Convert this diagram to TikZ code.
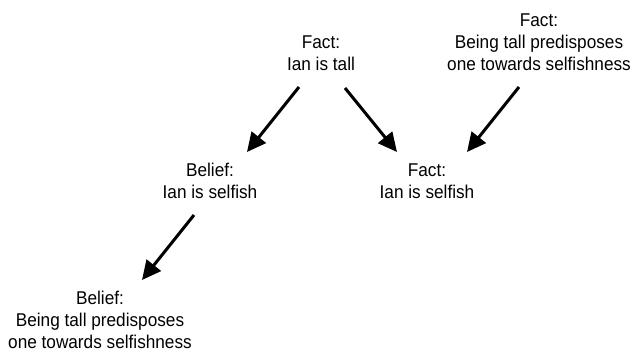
\documentclass[tikz,border=0pt]{standalone}
\usepackage{fontspec}
\setmainfont[FakeStretch=0.93]{Liberation Sans}
\usetikzlibrary{arrows.meta}

\tikzset{
  claim/.style={align=center,inner sep=0pt,anchor=base,font=\fontsize{18.5}{22}\selectfont},
  infer/.style={line width=3pt,-{Triangle[length=19pt,width=18pt]}}
}

\begin{document}
\begin{tikzpicture}[x=1pt,y=1pt]
      \useasboundingbox (0,0) rectangle (632,351);
      \node[claim] (tall) at (321,280) {Fact:\\Ian is tall};
      \node[claim] (rule) at (539,280) {Fact:\\Being tall predisposes\\one towards selfishness};
      \node[claim] (bself) at (210,152) {Belief:\\Ian is selfish};
      \node[claim] (fself) at (427,152) {Fact:\\Ian is selfish};
      \node[claim] (brule) at (100,2.5) {Belief:\\Being tall predisposes\\one towards selfishness};

      \draw[infer] ([shift={(-22pt,-16pt)}]tall.base) -- ([shift={(37pt,47pt)}]bself.base);
      \draw[infer] ([shift={(24pt,-17pt)}]tall.base) -- ([shift={(-30pt,47pt)}]fself.base);
      \draw[infer] ([shift={(-20pt,-16pt)}]rule.base) -- ([shift={(40pt,47pt)}]fself.base);
      \draw[infer] ([shift={(-16pt,-16pt)}]bself.base) -- ([shift={(42pt,68.5pt)}]brule.base);
    \end{tikzpicture}
\end{document}
